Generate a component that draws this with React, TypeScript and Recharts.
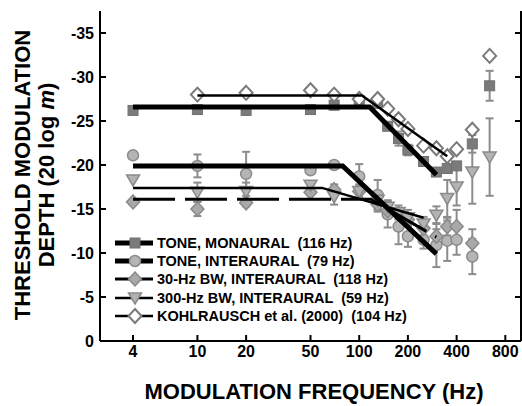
import { ComposedChart, Scatter, XAxis, YAxis, ErrorBar, Legend, Label } from 'recharts';

const FONT = '"Liberation Sans", Arial, Helvetica, sans-serif';

// modulation frequencies (Hz)
const freqs = [4, 10, 20, 50, 70, 100, 130, 150, 175, 200, 250, 300, 350, 400, 500, 640];

// thresholds in dB (20 log m), null = no point
const toneMonaural = [-26.2, -26.3, -26.2, -26.3, -26.8, -27.3, -27.0, -24.4, -23.0, -21.7, -20.4, -19.2, -19.6, -19.9, -22.4, -29.0];
const toneMonauralErr = [0, 0, 0, 0, 0.5, 0, 0, 0, 0.8, 0.6, 0.5, 0, 0, 0, 1.0, 1.7];

const toneInteraural = [-21.1, -19.9, -19.0, -19.4, -20.0, -18.7, -16.6, -14.4, -13.0, -11.9, -11.5, -10.9, -11.4, -11.5, -9.6, null];
const toneInterauralErr = [0, 1.3, 2.5, 0, 0, 1.4, 1.7, 1.5, 2.0, 1.2, 1.0, 2.5, 2.3, 1.7, 2.0, 0];

const bw30 = [-15.8, -15.0, -15.7, -16.9, -17.2, -17.0, -15.5, -14.8, -14.5, -13.8, -12.8, -11.9, -13.0, -13.0, -11.1, null];
const bw30Err = [0, 0.8, 0.4, 0, 0.6, 0.6, 0.8, 0.6, 0.6, 0.7, 0.8, 0.8, 1.0, 1.9, 1.6, 0];

const bw300 = [-18.3, -16.9, -17.0, -17.7, -16.4, -17.0, -16.0, -15.2, -14.6, -14.0, -13.3, -14.3, -16.2, -17.5, -19.2, -20.9];
const bw300Err = [0, 1.1, 1.0, 0, 0.9, 0.8, 1.0, 0.8, 0.8, 0.9, 0.8, 1.0, 2.1, 2.1, 3.6, 4.4];

const kohlrausch = [null, -28.0, -28.2, -28.5, -28.0, -27.5, -27.5, -26.4, -25.2, -24.1, -22.2, -21.9, -21.0, -21.8, -24.0, -32.4];

// two-segment fits: [flat start, corner, end]
const monauralFitF = [4, 116, 300];
const monauralFitV = [-26.6, -26.6, -18.9];
const interauralFitF = [4, 79, 300];
const interauralFitV = [-19.9, -19.9, -9.9];
const bw30FitF = [4, 118, 300];
const bw30FitV = [-16.1, -16.1, -11.8];
const bw300FitF = [4, 59, 250];
const bw300FitV = [-17.4, -17.4, -14.0];
const kohlFitF = [10, 104, 350];
const kohlFitV = [-27.9, -27.9, -21.0];

const xTicks = [4, 10, 20, 50, 100, 200, 400, 800];
const yTicks = [-35, -30, -25, -20, -15, -10, -5, 0];

const legendLabels = [
  'TONE, MONAURAL  (116 Hz)',
  'TONE, INTERAURAL  (79 Hz)',
  '30-Hz BW, INTERAURAL  (118 Hz)',
  '300-Hz BW, INTERAURAL  (59 Hz)',
  'KOHLRAUSCH et al. (2000)  (104 Hz)',
];

const points = (vs: (number | null)[], es?: number[]) =>
  freqs
    .map((f, i) => ({ f, v: vs[i], e: es ? es[i] : 0 }))
    .filter((p) => p.v !== null);

const fit = (fs: number[], vs: number[]) => fs.map((f, i) => ({ f, v: vs[i] }));

const ERR = '#8c8c8c';

const Square = ({ cx, cy }: any) => (
  <rect x={cx - 5} y={cy - 5} width={10} height={10} fill="#7b7b7b" stroke="#707070" strokeWidth={1} />
);
const Circle = ({ cx, cy }: any) => (
  <circle cx={cx} cy={cy} r={5.5} fill="#b5b5b5" stroke="#8a8a8a" strokeWidth={1.5} />
);
const Diamond = ({ cx, cy }: any) => (
  <polygon
    points={`${cx},${cy - 7} ${cx + 6.5},${cy} ${cx},${cy + 7} ${cx - 6.5},${cy}`}
    fill="#a9a9a9"
    stroke="#8a8a8a"
    strokeWidth={1.5}
  />
);
const Triangle = ({ cx, cy }: any) => (
  <polygon
    points={`${cx - 6.5},${cy - 5} ${cx + 6.5},${cy - 5} ${cx},${cy + 6}`}
    fill="#b3b3b3"
    stroke="#8a8a8a"
    strokeWidth={1.5}
  />
);
const OpenDiamond = ({ cx, cy }: any) => (
  <polygon
    points={`${cx},${cy - 7} ${cx + 6.5},${cy} ${cx},${cy + 7} ${cx - 6.5},${cy}`}
    fill="#fff"
    stroke="#7a7a7a"
    strokeWidth={2}
  />
);
const NoShape = () => <g />;

const legendItems = [
  { shape: Square, w: 5 },
  { shape: Circle, w: 5 },
  { shape: Diamond, w: 3 },
  { shape: Triangle, w: 2.5 },
  { shape: OpenDiamond, w: 2.5 },
];

const ChartLegend = () => (
  <div style={{ fontFamily: FONT, fontWeight: 'bold', fontSize: 14.5, color: '#000' }}>
    {legendLabels.map((label, i) => {
      const Shape = legendItems[i].shape;
      return (
        <div key={label} style={{ display: 'flex', alignItems: 'center', height: 18.33 }}>
          <svg width={40} height={18} style={{ display: 'block' }}>
            <line x1={0} y1={9} x2={38} y2={9} stroke="#000" strokeWidth={legendItems[i].w} />
            <Shape cx={20} cy={9} />
          </svg>
          <span style={{ whiteSpace: 'pre', marginLeft: 2, lineHeight: '18px' }}>{label}</span>
        </div>
      );
    })}
  </div>
);

const YTitle = () => (
  <g fontFamily={FONT} fontWeight="bold" fontSize={22} fill="#000">
    <text transform="translate(29.5,175) rotate(-90)" textAnchor="middle">
      THRESHOLD MODULATION
    </text>
    <text transform="translate(53.5,175) rotate(-90)" textAnchor="middle">
      DEPTH (20 log <tspan fontStyle="italic">m</tspan>)
    </text>
  </g>
);

const XTitle = () => (
  <text x={314} y={399} textAnchor="middle" fontFamily={FONT} fontWeight="bold" fontSize={22} fill="#000">
    MODULATION FREQUENCY (Hz)
  </text>
);

const axisStyle = { stroke: '#000', strokeWidth: 2 };
const tickStyle = { fill: '#000', fontSize: 16, fontWeight: 'bold', fontFamily: FONT };

export default function App() {
  return (
    <div style={{ position: 'absolute', left: 0, top: 0, background: '#fff' }}>
      <ComposedChart width={522} height={406} margin={{ top: 11, right: 0, bottom: 0, left: 0 }}>
        <XAxis
          dataKey="f"
          type="number"
          scale="log"
          domain={[2.5, 1000]}
          allowDataOverflow
          ticks={xTicks}
          height={65}
          tickSize={-6}
          tickMargin={11}
          axisLine={axisStyle}
          tickLine={axisStyle}
          tick={tickStyle}
        >
          <Label content={XTitle} />
        </XAxis>
        <XAxis
          xAxisId="top"
          orientation="top"
          type="number"
          scale="log"
          domain={[2.5, 1000]}
          allowDataOverflow
          ticks={xTicks}
          height={0}
          tickSize={-6}
          tickFormatter={() => ''}
          axisLine={axisStyle}
          tickLine={axisStyle}
        />
        <YAxis
          dataKey="v"
          type="number"
          domain={[-37.5, 0]}
          reversed
          allowDataOverflow
          ticks={yTicks}
          width={100}
          tickSize={-6}
          tickMargin={12}
          axisLine={axisStyle}
          tickLine={axisStyle}
          tick={tickStyle}
        >
          <Label content={YTitle} />
        </YAxis>
        <YAxis
          yAxisId="right"
          orientation="right"
          type="number"
          domain={[-37.5, 0]}
          reversed
          allowDataOverflow
          ticks={yTicks}
          width={1}
          tickSize={-6}
          tickFormatter={() => ''}
          axisLine={axisStyle}
          tickLine={axisStyle}
        />

        <Scatter data={points(toneMonaural, toneMonauralErr)} shape={Square} isAnimationActive={false}>
          <ErrorBar dataKey="e" direction="y" width={4} stroke={ERR} strokeWidth={2} isAnimationActive={false} />
        </Scatter>
        <Scatter data={points(toneInteraural, toneInterauralErr)} shape={Circle} isAnimationActive={false}>
          <ErrorBar dataKey="e" direction="y" width={4} stroke={ERR} strokeWidth={2} isAnimationActive={false} />
        </Scatter>
        <Scatter data={points(bw30, bw30Err)} shape={Diamond} isAnimationActive={false}>
          <ErrorBar dataKey="e" direction="y" width={4} stroke={ERR} strokeWidth={2} isAnimationActive={false} />
        </Scatter>
        <Scatter data={points(bw300, bw300Err)} shape={Triangle} isAnimationActive={false}>
          <ErrorBar dataKey="e" direction="y" width={4} stroke={ERR} strokeWidth={2} isAnimationActive={false} />
        </Scatter>
        <Scatter data={points(kohlrausch)} shape={OpenDiamond} isAnimationActive={false} />

        <Scatter data={fit(kohlFitF, kohlFitV)} shape={NoShape} line={{ stroke: '#000', strokeWidth: 2.5 }} isAnimationActive={false} />
        <Scatter data={fit(bw300FitF, bw300FitV)} shape={NoShape} line={{ stroke: '#000', strokeWidth: 2.5 }} isAnimationActive={false} />
        <Scatter
          data={fit(bw30FitF, bw30FitV)}
          shape={NoShape}
          line={{ stroke: '#000', strokeWidth: 3, strokeDasharray: '42 10' }}
          isAnimationActive={false}
        />
        <Scatter data={fit(interauralFitF, interauralFitV)} shape={NoShape} line={{ stroke: '#000', strokeWidth: 5 }} isAnimationActive={false} />
        <Scatter data={fit(monauralFitF, monauralFitV)} shape={NoShape} line={{ stroke: '#000', strokeWidth: 5 }} isAnimationActive={false} />

        <Legend
          layout="vertical"
          align="center"
          verticalAlign="middle"
          content={ChartLegend}
          wrapperStyle={{ left: 115, top: 233.5, width: 300, height: 92 }}
        />
      </ComposedChart>
    </div>
  );
}
